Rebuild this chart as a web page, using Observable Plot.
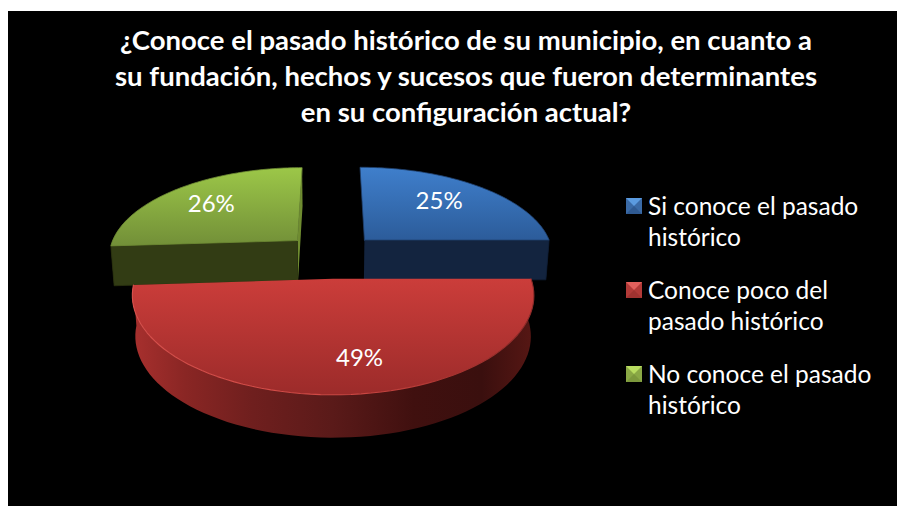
<!DOCTYPE html>
<html lang="es">
<head>
<meta charset="utf-8">
<script src="https://cdn.jsdelivr.net/npm/d3@7"></script>
<script src="https://cdn.jsdelivr.net/npm/@observablehq/plot@0.6"></script>
<style>
html,body{margin:0;padding:0;background:#fff;overflow:hidden;width:897px;height:506px}
#panel{position:absolute;left:8px;top:11px;width:889px;height:495px;background:#000;font-family:Lato,"Open Sans",sans-serif;color:#fff}
#title{position:absolute;left:0;top:11px;width:916px;text-align:center;font-weight:700;font-size:27.5px;line-height:36px;white-space:nowrap}
#chart{position:absolute;left:0;top:129px}
#chart svg{display:block}
#legend{position:absolute;left:618px;top:178.5px;font-size:24.5px;line-height:31.5px;white-space:nowrap}
.item{position:relative;padding-left:22px;margin-bottom:21px}
.sw{position:absolute;left:0;top:8px;width:0;height:0;border-style:solid;border-width:8px}
</style>
</head>
<body>
<div id="panel">
  <div id="title"></div>
  <div id="chart"></div>
  <div id="legend"></div>
</div>
<script>
const titleLines = [
  "¿Conoce el pasado histórico de su municipio, en cuanto a",
  "su fundación, hechos y sucesos que fueron determinantes",
  "en su configuración actual?"
];
const categories = ["Si conoce el pasado histórico", "Conoce poco del pasado histórico", "No conoce el pasado histórico"];
const legendLines = [["Si conoce el pasado", "histórico"], ["Conoce poco del", "pasado histórico"], ["No conoce el pasado", "histórico"]];
const values = [25, 49, 26];
const topColors = [["#3f7fcc", "#2c5c9a"], ["#cb3d3a", "#9c2b2a"], ["#9cc748", "#728f38"]];
const faceColors = ["#13243f", "#5a1816", "#323c14"];
const swatchColors = [["#5b9be0", "#3a6aa6", "#2f5a92"], ["#e2605c", "#b23a38", "#a03230"], ["#b8dc60", "#8aa845", "#7c983c"]];

// Camera model of the tilted, exploded pie
const W = 600, H = 320, offX = 8, offY = 140;
const cx = 331, cy = 255, R = 190, K = 89, persp = 0.16, explode = 0.252, depth = 0.45;

const arcs = d3.pie().sort(null).value(d => d)(values);

function project(X, Z, h = 0) {
  const s = 1 / (1 - persp * Z);
  if (!h) return {x: X * s, y: Z * s};
  return {x: X * s * 0.985, y: Z * s + h * (0.72 + 0.28 * s)};
}
function rimPoint(a, t, h = 0) {
  const mid = (a.startAngle + a.endAngle) / 2;
  const ox = Math.sin(mid) * explode, oz = -Math.cos(mid) * explode;
  return project(ox + Math.sin(t), oz - Math.cos(t), h);
}
function apex(a, h = 0) {
  const mid = (a.startAngle + a.endAngle) / 2;
  return project(Math.sin(mid) * explode, -Math.cos(mid) * explode, h);
}
function sweep(a, from = a.startAngle, to = a.endAngle) {
  return d3.range(0, 73).map(i => from + (to - from) * i / 72);
}
function topFace(a) {
  return [apex(a), ...sweep(a).map(t => rimPoint(a, t)), apex(a)];
}
function wall(a, from = a.startAngle, to = a.endAngle) {
  const ts = sweep(a, from, to);
  return [...ts.map(t => rimPoint(a, t)), ...ts.slice().reverse().map(t => rimPoint(a, t, depth))];
}
function innerFace(a, t) {
  return [apex(a), rimPoint(a, t), rimPoint(a, t, depth), apex(a, depth)];
}
const xy = {x: "x", y: "y"};
const [blue, red, green] = arcs;
const labelPoint = (a, r) => {
  const mid = (a.startAngle + a.endAngle) / 2;
  const ox = Math.sin(mid) * explode, oz = -Math.cos(mid) * explode;
  return project(ox + Math.sin(mid) * r, oz - Math.cos(mid) * r);
};
const labelData = arcs.map((a, i) => ({...labelPoint(a, 0.62), text: values[i] + "%", i}));
const labelNudge = [[1, -4], [22, 13], [-10, -3]];

const chart = Plot.plot({
  width: W, height: H, margin: 0,
  style: {background: "transparent", color: "#fff"},
  x: {axis: null, domain: [(offX - cx) / R, (offX + W - cx) / R], range: [0, W]},
  y: {axis: null, domain: [(offY - cy) / K, (offY + H - cy) / K], range: [0, H]},
  marks: [
    // green and blue: walls and inner faces first, then the tops
    Plot.line(innerFace(green, green.endAngle), {...xy, fill: "#6f8c30", stroke: "none"}),
    Plot.line(wall(green, green.startAngle, green.startAngle + 0.4), {...xy, fill: faceColors[2], stroke: "none"}),
    Plot.line(innerFace(green, green.startAngle), {...xy, fill: faceColors[2], stroke: "#29310f", strokeWidth: 0.8}),
    Plot.line(topFace(green), {...xy, fill: "url(#top2)", stroke: "#6f8c35", strokeWidth: 0.8}),
    Plot.line(wall(blue, 1.2, blue.endAngle), {...xy, fill: faceColors[0], stroke: "none"}),
    Plot.line(innerFace(blue, blue.endAngle), {...xy, fill: faceColors[0], stroke: "#0f1d33", strokeWidth: 0.8}),
    Plot.line(topFace(blue), {...xy, fill: "url(#top0)", stroke: "#21416f", strokeWidth: 0.8}),
    // red in front
    Plot.line(wall(red), {...xy, fill: "url(#redSide)", stroke: "none"}),
    Plot.line(topFace(red), {...xy, fill: "url(#top1)", stroke: "none"}),
    Plot.line(sweep(red).map(t => rimPoint(red, t)), {...xy, stroke: "url(#redRim)", strokeWidth: 1.1}),
    ...labelData.map(d => Plot.text([d], {
      ...xy, text: "text", fill: "#fff", fontSize: 24,
      fontFamily: "Lato, 'Open Sans', sans-serif",
      dx: labelNudge[d.i][0], dy: labelNudge[d.i][1]
    }))
  ]
});

// Gradient paints used by the slices
const defs = d3.select(chart).insert("defs", ":first-child");
function gradient(id, dir, stops) {
  const g = defs.append("linearGradient").attr("id", id)
    .attr("x1", 0).attr("y1", 0)
    .attr("x2", dir === "h" ? 1 : 0).attr("y2", dir === "h" ? 0 : 1);
  stops.forEach(([o, c]) => g.append("stop").attr("offset", o).attr("stop-color", c));
}
topColors.forEach((c, i) => gradient("top" + i, "v", [[0, c[0]], [1, c[1]]]));
gradient("redSide", "h", [[0, "#a8302e"], [0.13, "#8a2624"], [0.3, "#6f1f1e"], [0.5, "#5a1a19"], [0.7, "#40100f"], [0.87, "#3a0f0e"], [1, "#571714"]]);
gradient("redRim", "h", [[0, "#d8514d"], [0.55, "#cf4844"], [0.8, "#a83430"], [1, "#8c2a28"]]);

document.getElementById("chart").appendChild(chart);

document.getElementById("title").innerHTML = titleLines.map(l => `<div>${l}</div>`).join("");
document.getElementById("legend").innerHTML = legendLines.map((lines, i) => {
  const [a, b, c] = swatchColors[i];
  return `<div class="item" title="${categories[i]}"><span class="sw" style="border-color:${a} ${b} ${c} ${b}"></span>${lines.join("<br>")}</div>`;
}).join("");
</script>
</body>
</html>
